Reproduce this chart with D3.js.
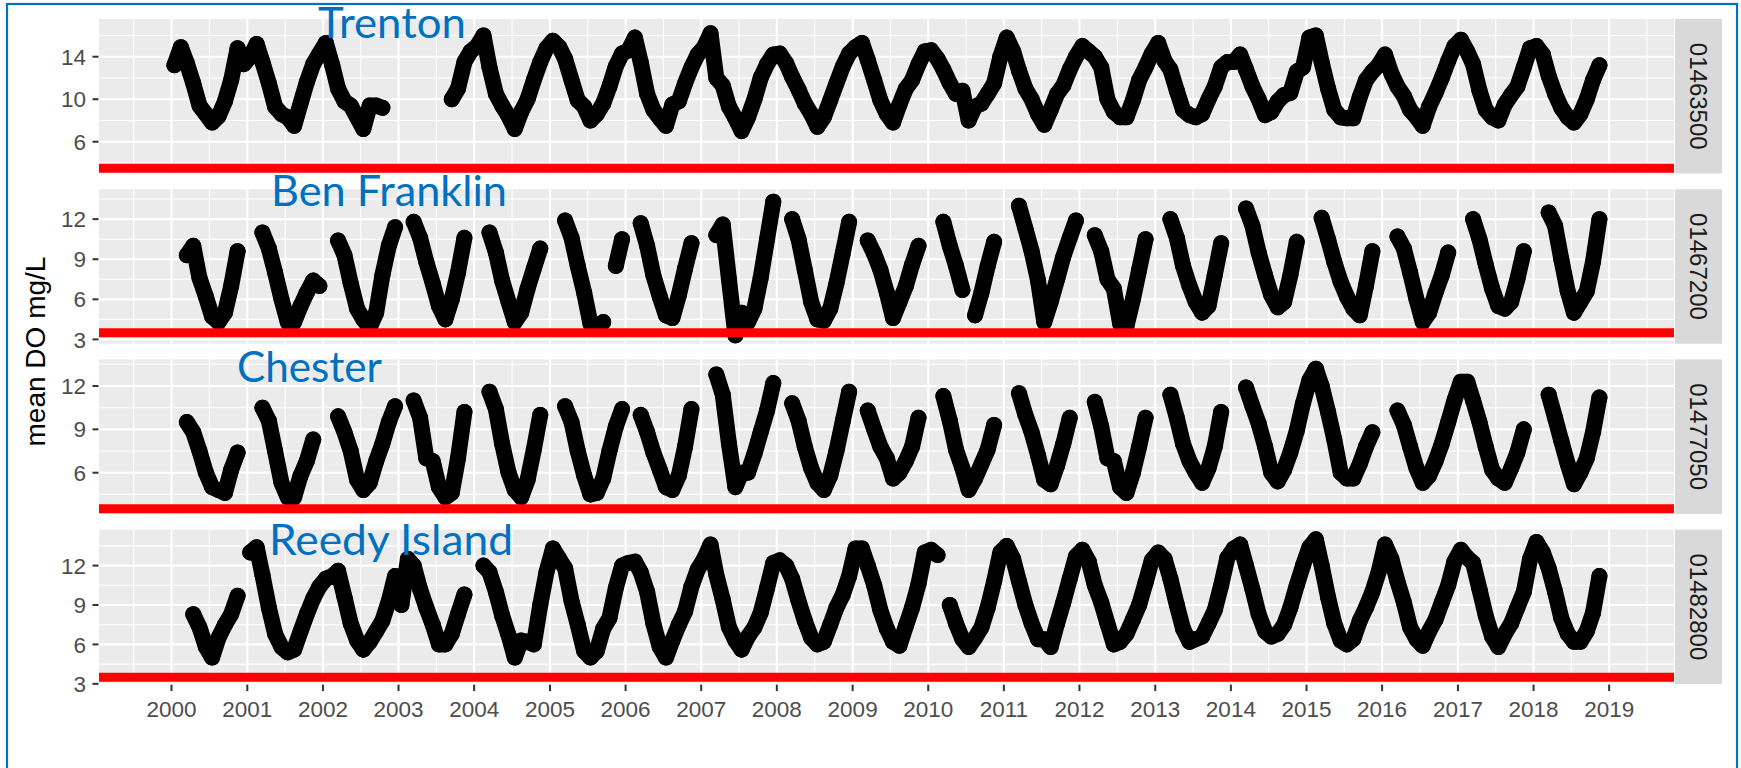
<!DOCTYPE html>
<html>
<head>
<meta charset="utf-8">
<script src="https://cdn.jsdelivr.net/npm/d3@7"></script>
<style>
  body { margin: 0; background: #fff; }
</style>
</head>
<body>
<svg id="chart" width="1741" height="768"></svg>
<script>
// ---- data (monthly means, one row per year, Jan..Dec) ----
const years = [2000, 2001, 2002, 2003, 2004, 2005, 2006, 2007, 2008, 2009,
               2010, 2011, 2012, 2013, 2014, 2015, 2016, 2017, 2018];
const yearTicks = [2000, 2001, 2002, 2003, 2004, 2005, 2006, 2007, 2008, 2009,
                   2010, 2011, 2012, 2013, 2014, 2015, 2016, 2017, 2018, 2019];
const siteIds = ["01463500", "01467200", "01477050", "01482800"];
const siteNames = ["Trenton", "Ben Franklin", "Chester", "Reedy Island"];
const threshold = 3.5;
const yLimits = [[3.01, 17.55], [2.68, 14.24], [3.15, 13.84], [2.98, 14.74]];
const yTicks = [[6, 10, 14], [3, 6, 9, 12], [6, 9, 12], [3, 6, 9, 12]];

const trenton = [
  [13.2, 14.9, 13.4, 11.5, 9.4, 8.6, 7.8, 8.4, 9.8, 11.8, 14.8, 13.3],
  [14.0, 15.2, 13.5, 11.5, 9.3, 8.6, 8.3, 7.5, 9.6, 11.6, 13.3, 14.3],
  [15.3, 13.2, 11.0, 9.8, 9.4, 8.3, 7.2, 9.4, 9.4, 9.2, null, null],
  [null, null, null, null, null, null, null, null, 10.0, 11.0, 13.5, 14.5],
  [15.0, 16.0, 13.0, 10.5, 9.4, 8.4, 7.2, 8.8, 10.0, 11.8, 13.5, 14.8],
  [15.5, 14.9, 13.8, 11.8, 9.9, 9.3, 8.0, 8.6, 9.6, 11.2, 13.1, 14.3],
  [14.6, 15.8, 13.5, 10.5, 9.0, 8.2, 7.5, 9.5, 9.8, 11.5, 13.0, 14.2],
  [14.9, 16.2, 12.0, 11.3, 9.3, 8.2, 7.0, 8.3, 10.0, 12.0, 13.3, 14.2],
  [14.3, 13.4, 12.1, 10.9, 9.6, 8.6, 7.4, 8.3, 9.9, 11.5, 13.1, 14.3],
  [14.9, 15.3, 13.7, 11.8, 9.9, 8.6, 7.8, 9.5, 11.0, 11.8, 13.3, 14.5],
  [14.6, 13.8, 12.8, 11.5, 10.5, 10.8, 8.0, 9.3, 9.6, 10.5, 11.5, 14.0],
  [15.8, 14.5, 12.7, 11.0, 10.0, 8.6, 7.6, 9.0, 10.5, 11.3, 12.8, 14.0],
  [15.0, 14.5, 14.0, 13.0, 10.0, 8.8, 8.3, 8.3, 9.9, 11.8, 13.0, 14.3],
  [15.3, 13.6, 12.8, 10.8, 9.0, 8.5, 8.3, 8.6, 10.0, 11.2, 13.0, 13.5],
  [13.5, 14.2, 12.8, 11.2, 10.0, 8.5, 8.8, 9.8, 10.4, 10.6, 12.6, 13.0],
  [15.8, 16.0, 13.5, 11.0, 9.0, 8.3, 8.2, 8.2, 10.2, 11.8, 12.6, 13.2],
  [14.2, 12.4, 11.2, 10.3, 9.0, 8.3, 7.5, 9.3, 10.6, 12.0, 13.6, 15.0],
  [15.6, 14.5, 13.3, 10.8, 9.0, 8.3, 8.0, 9.5, 10.4, 11.2, 13.0, 14.8],
  [15.0, 14.2, 12.2, 10.5, 9.2, 8.3, 7.8, 8.6, 10.0, 11.8, 13.2, null]
];

const benFranklin = [
  [null, null, 9.3, 10.0, 7.6, 6.2, 4.7, 4.3, 5.0, 7.0, 9.6, null],
  [null, null, 11.0, 9.8, 8.0, 6.0, 4.3, 4.3, 5.5, 6.5, 7.4, 7.0],
  [null, null, 10.4, 9.3, 7.2, 5.3, 4.5, 3.9, 5.0, 7.8, 10.0, 11.4],
  [null, null, 11.8, 10.6, 8.8, 7.2, 5.5, 4.5, 6.0, 8.0, 10.6, null],
  [null, null, 11.0, 9.5, 7.4, 5.8, 4.3, 5.0, 6.8, 8.3, 9.8, null],
  [null, null, 11.9, 10.6, 8.5, 6.5, 4.2, 3.9, 4.3, null, 8.5, 10.5],
  [null, null, 11.7, 10.0, 7.8, 6.2, 4.8, 4.6, 6.3, 8.3, 10.2, null],
  [null, null, 10.8, 11.6, 7.5, 3.3, 5.0, 4.3, 5.3, 7.6, 10.5, 13.3],
  [null, null, 12.0, 10.5, 8.2, 5.8, 4.5, 4.4, 5.3, 7.2, 9.5, 11.8],
  [null, null, 10.4, 9.4, 8.2, 6.5, 4.6, 5.8, 7.0, 8.6, 10.0, null],
  [null, null, 11.8, 10.0, 8.5, 6.7, null, 4.8, 6.5, 8.5, 10.3, null],
  [null, null, 13.0, 11.3, 9.6, 7.4, 4.3, 5.8, 7.5, 9.2, 10.6, 11.9],
  [null, null, 10.8, 9.6, 7.5, 6.8, 4.2, 4.0, 6.0, 8.2, 10.5, null],
  [null, null, 12.0, 10.6, 8.5, 7.0, 5.8, 5.0, 5.5, 7.8, 10.2, null],
  [null, null, 12.8, 11.5, 9.5, 7.8, 6.3, 5.4, 5.8, 7.8, 10.3, null],
  [null, null, 12.1, 10.5, 8.8, 7.3, 6.2, 5.3, 4.8, 7.0, 9.6, null],
  [null, null, 10.7, 9.8, 8.0, 6.0, 4.3, 5.0, 6.5, 7.8, 9.5, null],
  [null, null, 12.0, 10.5, 8.6, 6.8, 5.5, 5.3, 5.8, 7.5, 9.6, null],
  [null, null, 12.5, 11.5, 9.0, 6.6, 5.0, 5.8, 6.6, 8.8, 12.0, null]
];

const chester = [
  [null, null, 9.5, 8.8, 7.5, 6.0, 5.0, 4.8, 4.6, 6.2, 7.4, null],
  [null, null, 10.5, 9.6, 7.5, 5.3, 4.3, 4.3, 5.8, 6.8, 8.3, null],
  [null, null, 9.9, 8.8, 7.5, 5.5, 4.8, 5.3, 6.8, 8.0, 9.5, 10.6],
  [null, null, 11.0, 9.8, 7.0, 6.8, 5.0, 4.3, 4.6, 7.0, 10.2, null],
  [null, null, 11.6, 10.4, 8.0, 6.0, 4.8, 4.3, 5.5, 7.6, 10.0, null],
  [null, null, 10.6, 9.5, 7.5, 5.8, 4.5, 4.6, 5.6, 7.5, 9.2, 10.4],
  [null, null, 10.0, 8.8, 7.4, 6.2, 5.0, 4.8, 5.8, 7.8, 10.4, null],
  [null, null, 12.8, 11.4, 8.0, 5.0, 6.0, 6.0, 7.3, 8.8, 10.3, 12.2],
  [null, null, 10.8, 9.6, 7.8, 6.3, 5.3, 4.8, 5.8, 7.5, 9.6, 11.6],
  [null, null, 10.3, 9.0, 7.8, 7.0, 5.6, 6.0, 6.8, 7.8, 9.8, null],
  [null, null, 11.3, 9.6, 7.6, 6.3, 4.8, 5.6, 6.6, 7.6, 9.3, null],
  [null, null, 11.5, 10.0, 8.8, 7.2, 5.5, 5.2, 6.5, 8.0, 9.8, null],
  [null, null, 10.9, 9.2, 7.0, 6.8, 5.0, 4.6, 6.0, 7.8, 9.8, null],
  [null, null, 11.4, 9.8, 8.0, 6.8, 6.0, 5.3, 6.3, 7.8, 10.2, null],
  [null, null, 11.9, 10.6, 9.4, 7.8, 6.0, 5.4, 6.2, 7.4, 8.9, 10.8],
  [12.4, 13.2, 12.0, 10.2, 8.3, 6.0, 5.6, 5.6, 6.6, 7.8, 8.8, null],
  [null, null, 10.3, 9.3, 7.8, 6.3, 5.3, 5.8, 6.8, 8.0, 9.5, 11.0],
  [12.3, 12.3, 11.0, 9.5, 7.8, 6.2, 5.6, 5.3, 6.3, 7.4, 9.0, null],
  [null, null, 11.4, 9.8, 8.2, 6.6, 5.2, 6.0, 7.0, 8.8, 11.2, null]
];

const reedyIsland = [
  [null, null, null, 8.3, 7.3, 5.8, 5.0, 6.5, 7.5, 8.3, 9.7, null],
  [13.0, 13.4, 11.3, 8.8, 6.8, 5.8, 5.4, 5.6, 7.0, 8.3, 9.5, 10.4],
  [11.0, 11.2, 11.6, 9.6, 7.6, 6.3, 5.6, 6.2, 7.0, 7.8, 9.3, 11.2],
  [9.0, 12.5, 12.0, 10.2, 8.8, 7.5, 6.0, 6.0, 6.8, 8.3, 9.8, null],
  [null, 12.0, 11.5, 10.0, 8.2, 6.7, 5.0, 6.3, 6.2, 6.0, 9.0, 11.5],
  [13.3, 12.5, 11.8, 9.3, 7.5, 5.5, 5.0, 5.5, 7.2, 8.0, 10.3, 12.0],
  [12.2, 12.3, 11.5, 10.0, 7.6, 5.8, 5.0, 6.3, 7.5, 8.5, 10.4, 11.7],
  [12.5, 13.6, 11.3, 9.4, 7.3, 6.3, 5.6, 6.6, 7.3, 8.4, 10.3, 12.2],
  [12.4, 12.0, 11.0, 9.3, 7.8, 6.5, 6.0, 6.2, 7.5, 8.8, 9.8, 11.2],
  [13.3, 13.3, 12.0, 10.5, 8.6, 7.2, 6.2, 5.9, 7.4, 8.8, 10.6, 13.0],
  [13.2, 12.8, null, 9.0, 7.6, 6.4, 5.8, 6.5, 7.3, 8.8, 10.8, 13.0],
  [13.5, 12.5, 10.8, 9.0, 7.6, 6.4, 6.4, 5.8, 7.6, 9.2, 11.0, 12.7],
  [13.2, 12.3, 10.5, 9.2, 7.6, 6.0, 6.2, 6.8, 7.9, 9.0, 10.7, 12.4],
  [13.0, 12.5, 11.0, 9.0, 7.2, 6.2, 6.4, 6.6, 7.6, 8.6, 10.5, 12.6],
  [13.3, 13.6, 12.0, 10.2, 8.3, 7.0, 6.6, 6.8, 7.5, 8.8, 10.5, 12.0],
  [13.4, 14.0, 12.0, 9.6, 7.6, 6.3, 6.0, 6.4, 7.8, 8.8, 10.0, 11.5],
  [13.6, 12.5, 10.8, 9.2, 7.3, 6.4, 5.9, 7.0, 7.9, 9.2, 10.5, 12.3],
  [13.2, 12.6, 12.2, 10.2, 8.2, 6.6, 5.8, 6.8, 7.6, 8.8, 10.0, 12.5],
  [13.8, 13.0, 11.8, 10.0, 8.0, 6.8, 6.2, 6.2, 7.0, 8.4, 11.2, null]
];

const series = [trenton, benFranklin, chester, reedyIsland];

// ---- layout ----
const left = 99, right = 1674;
const panelTop = 19, panelH = 154.5, panelGap = 15.7;
const stripW = 47;
const axisFont = "'Liberation Sans', Arial, sans-serif";
const labelBlue = "#0070C0";

const svg = d3.select("#chart");

// blue frame round the pasted figure
svg.append("rect")
  .attr("x", 7).attr("y", 4)
  .attr("width", 1730).attr("height", 800)
  .attr("fill", "none")
  .attr("stroke", labelBlue)
  .attr("stroke-width", 2.2);

const x = d3.scaleTime()
  .domain([new Date(1999, 0, 16), new Date(2019, 10, 10)])
  .range([left, right]);

const majorDates = yearTicks.map(y => new Date(y, 0, 1));
const minorDates = d3.range(1999, 2020).map(y =>
  new Date((new Date(y, 0, 1).getTime() + new Date(y + 1, 0, 1).getTime()) / 2));

function toPoints(table) {
  const pts = [];
  table.forEach((row, i) => row.forEach((v, m) => {
    pts.push({ date: new Date(years[i], m, 15), value: v });
  }));
  return pts;
}

const defs = svg.append("defs");

series.forEach((table, i) => {
  const top = panelTop + i * (panelH + panelGap);
  const bottom = top + panelH;
  const y = d3.scaleLinear().domain(yLimits[i]).range([bottom, top]);
  const g = svg.append("g");

  // panel background
  g.append("rect")
    .attr("x", left).attr("y", top)
    .attr("width", right - left).attr("height", panelH)
    .attr("fill", "#EBEBEB");

  // minor grid
  const step = yTicks[i][1] - yTicks[i][0];
  const yMinor = d3.range(yTicks[i][0] - step / 2, yTicks[i][yTicks[i].length - 1] + step, step)
    .filter(v => v > yLimits[i][0] && v < yLimits[i][1]);
  g.selectAll(".hminor").data(yMinor).enter().append("line")
    .attr("x1", left).attr("x2", right)
    .attr("y1", d => y(d)).attr("y2", d => y(d))
    .attr("stroke", "#fff").attr("stroke-width", 1.05);
  g.selectAll(".vminor").data(minorDates).enter().append("line")
    .attr("x1", d => x(d)).attr("x2", d => x(d))
    .attr("y1", top).attr("y2", bottom)
    .attr("stroke", "#fff").attr("stroke-width", 1.05);

  // major grid
  g.selectAll(".hmajor").data(yTicks[i]).enter().append("line")
    .attr("x1", left).attr("x2", right)
    .attr("y1", d => y(d)).attr("y2", d => y(d))
    .attr("stroke", "#fff").attr("stroke-width", 2.1);
  g.selectAll(".vmajor").data(majorDates).enter().append("line")
    .attr("x1", d => x(d)).attr("x2", d => x(d))
    .attr("y1", top).attr("y2", bottom)
    .attr("stroke", "#fff").attr("stroke-width", 2.1);

  // data, clipped to the panel
  defs.append("clipPath").attr("id", "clip" + i)
    .append("rect")
    .attr("x", left).attr("y", top)
    .attr("width", right - left).attr("height", panelH);

  const pts = toPoints(table);
  const dataG = g.append("g").attr("clip-path", "url(#clip" + i + ")");
  const line = d3.line()
    .defined(d => d.value != null)
    .x(d => x(d.date))
    .y(d => y(d.value));

  dataG.append("path")
    .attr("d", line(pts))
    .attr("fill", "none")
    .attr("stroke", "#000")
    .attr("stroke-width", 16)
    .attr("stroke-linejoin", "round")
    .attr("stroke-linecap", "round");

  dataG.selectAll("circle")
    .data(pts.filter(d => d.value != null))
    .enter().append("circle")
    .attr("cx", d => x(d.date))
    .attr("cy", d => y(d.value))
    .attr("r", 8)
    .attr("fill", "#000");

  // DO threshold
  dataG.append("line")
    .attr("x1", left).attr("x2", right)
    .attr("y1", y(threshold)).attr("y2", y(threshold))
    .attr("stroke", "#FF0000")
    .attr("stroke-width", 9);

  // y axis
  const yAxis = g.append("g");
  yAxis.selectAll("line").data(yTicks[i]).enter().append("line")
    .attr("x1", left - 6.5).attr("x2", left - 0.5)
    .attr("y1", d => y(d)).attr("y2", d => y(d))
    .attr("stroke", "#333333").attr("stroke-width", 2);
  yAxis.selectAll("text").data(yTicks[i]).enter().append("text")
    .attr("x", left - 13)
    .attr("y", d => y(d))
    .attr("dy", "0.36em")
    .attr("text-anchor", "end")
    .style("font-family", axisFont)
    .style("font-size", "22.5px")
    .style("fill", "#4D4D4D")
    .text(d => d);

  // facet strip
  g.append("rect")
    .attr("x", right + 1).attr("y", top)
    .attr("width", stripW).attr("height", panelH)
    .attr("fill", "#D9D9D9");
  g.append("text")
    .attr("transform", "translate(" + (right + 1 + stripW / 2) + "," + (top + panelH / 2) + ") rotate(90)")
    .attr("text-anchor", "middle")
    .attr("dy", "0.36em")
    .style("font-family", axisFont)
    .style("font-size", "24px")
    .style("fill", "#1A1A1A")
    .text(siteIds[i]);

  // x axis under the last panel only
  if (i === series.length - 1) {
    const xAxis = g.append("g");
    xAxis.selectAll("line").data(majorDates).enter().append("line")
      .attr("x1", d => x(d)).attr("x2", d => x(d))
      .attr("y1", bottom + 0.5).attr("y2", bottom + 7)
      .attr("stroke", "#333333").attr("stroke-width", 2);
    xAxis.selectAll("text").data(yearTicks).enter().append("text")
      .attr("x", (d, k) => x(majorDates[k]))
      .attr("y", bottom + 33)
      .attr("text-anchor", "middle")
      .style("font-family", axisFont)
      .style("font-size", "22.5px")
      .style("fill", "#4D4D4D")
      .text(d => d);
  }
});

// y axis title
svg.append("text")
  .attr("transform", "translate(45," + (panelTop + (4 * panelH + 3 * panelGap) / 2) + ") rotate(-90)")
  .attr("text-anchor", "middle")
  .style("font-family", axisFont)
  .style("font-size", "28px")
  .style("fill", "#000")
  .text("mean DO mg/L");

// site names typed over the plot
const nameX = [318, 271, 237, 269];
const nameY = [37.5, 205.5, 382, 555];
const nameW = [148, 236, 145, 244];
svg.selectAll(".site-name").data(siteNames).enter().append("text")
  .attr("x", (d, i) => nameX[i])
  .attr("y", (d, i) => nameY[i])
  .attr("textLength", (d, i) => nameW[i])
  .attr("lengthAdjust", "spacingAndGlyphs")
  .style("font-family", "Lato, 'Open Sans', sans-serif")
  .style("font-size", "42px")
  .style("fill", labelBlue)
  .text(d => d);
</script>
</body>
</html>
